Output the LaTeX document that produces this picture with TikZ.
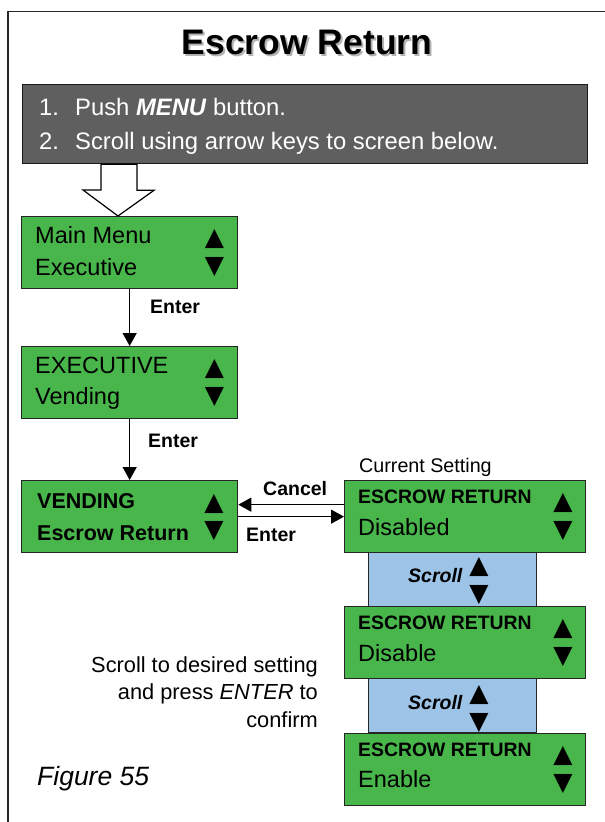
\documentclass[tikz,border=0pt]{standalone}
\usepackage{fontspec}
\setmainfont{Liberation Sans}
\newfontfamily\symfont{DejaVu Sans}
\usetikzlibrary{arrows.meta, positioning, calc}
\definecolor{lcdgreen}{RGB}{72,182,74}
\definecolor{stepgray}{RGB}{95,95,95}
\definecolor{scrollblue}{RGB}{157,195,230}
\tikzset{
    screen/.style={rectangle, draw=black!85, fill=lcdgreen, line width=1.3pt,
                   anchor=north west, minimum width=216pt, minimum height=72pt, inner sep=0pt},
    wscreen/.style={screen, minimum width=241pt},
    scrollbox/.style={rectangle, draw=black!85, fill=scrollblue, line width=1.3pt,
                      anchor=north west, minimum width=168pt, minimum height=54pt, inner sep=0pt},
    steps/.style={rectangle, draw=black!90, fill=stepgray, line width=1.3pt,
                  anchor=north west, minimum width=565pt, minimum height=79pt, inner sep=0pt},
    lcd/.style={anchor=base west, inner sep=0pt, font=\fontsize{23.5}{28}\selectfont},
    lcdbold/.style={lcd, font=\bfseries\fontsize{21.5}{26}\selectfont},
    lcdhead/.style={lcd, font=\bfseries\fontsize{19.4}{24}\selectfont},
    tri/.style={inner sep=0pt, font=\symfont\fontsize{25}{25}\selectfont},
    lbl/.style={anchor=base west, inner sep=0pt, font=\bfseries\fontsize{19.5}{24}\selectfont},
    note/.style={inner sep=0pt, font=\fontsize{21.8}{27.5}\selectfont},
    white/.style={anchor=base west, inner sep=0pt, text=white, font=\fontsize{23.8}{28}\selectfont},
    arrow/.style={line width=1.2pt, -{Triangle[length=13pt,width=14pt]}},
    hollow/.style={draw=black, fill=white, line width=1.2pt, line join=miter}
}
\newcommand{\shadowtext}[1]{\makebox[0pt][l]{\hspace{2pt}\raisebox{-2pt}{\textcolor{black!30}{#1}}}#1}

\begin{document}
\begin{tikzpicture}[x=1pt, y=-1pt]
    \useasboundingbox (0,0) rectangle (605,822);

    % frame
    \draw[line width=1.4pt, black!85] (605,11.5) -- (8,11.5) -- (8,822);

    % title
    \node[anchor=base, inner sep=0pt, font=\bfseries\fontsize{35.5}{40}\selectfont] (title)
        at (307,54) {\shadowtext{Escrow Return}};

    % instructions
    \node[steps] (steps) at (22,84) {};
    \node[white] (num1) at ($(steps.north west)+(17,31)$) {1.};
    \node[white] (txt1) at ($(steps.north west)+(53,31)$) {Push \textbf{\textit{MENU}} button.};
    \node[white] (num2) at ($(steps.north west)+(17,65)$) {2.};
    \node[white] (txt2) at ($(steps.north west)+(53,65)$) {Scroll using arrow keys to screen below.};

    % Main Menu
    \node[screen] (mainmenu) at (21,216) {};
    \node[lcd] at ($(mainmenu.north west)+(14,27)$) {Main Menu};
    \node[lcd] at ($(mainmenu.north west)+(14,59.5)$) {Executive};
    \node[tri] at ($(mainmenu.north west)+(193.5,23.5)$) {▲};
    \node[tri] at ($(mainmenu.north west)+(193.5,51.5)$) {▼};

    % hollow arrow into Main Menu
    \coordinate (tip) at (mainmenu.north -| 118,0);
    \draw[hollow] (tip) -- ++(-35,-26) -- ++(18,0) -- (101,0 |- steps.south)
        -- (137,0 |- steps.south) -- ++(0,26) -- ++(17,0) -- cycle;

    % EXECUTIVE
    \node[screen] (executive) at (21,346) {};
    \node[lcd] at ($(executive.north west)+(14,27)$) {EXECUTIVE};
    \node[lcd] at ($(executive.north west)+(14,58)$) {Vending};
    \node[tri] at ($(executive.north west)+(193.5,23.5)$) {▲};
    \node[tri] at ($(executive.north west)+(193.5,51.5)$) {▼};

    % VENDING
    \node[screen] (vending) at (21,480) {};
    \node[lcdbold] at ($(vending.north west)+(16,28)$) {VENDING};
    \node[lcdbold] at ($(vending.north west)+(16,60)$) {Escrow Return};
    \node[tri] at ($(vending.north west)+(193,24)$) {▲};
    \node[tri] at ($(vending.north west)+(193,50.5)$) {▼};

    % Escrow Return screens
    \node[wscreen] (setting) at (344,480) {};
    \node[lcdhead] at ($(setting.north west)+(14,23)$) {ESCROW RETURN};
    \node[lcd] at ($(setting.north west)+(14,55)$) {Disabled};
    \node[tri] at ($(setting.north west)+(219,23)$) {▲};
    \node[tri] at ($(setting.north west)+(219,51)$) {▼};

    \node[scrollbox] (scrolla) at (368,552) {};
    \node[wscreen] (disable) at (344,606) {};
    \node[lcdhead] at ($(disable.north west)+(14,23)$) {ESCROW RETURN};
    \node[lcd] at ($(disable.north west)+(14,55)$) {Disable};
    \node[tri] at ($(disable.north west)+(219,23)$) {▲};
    \node[tri] at ($(disable.north west)+(219,51)$) {▼};

    \node[scrollbox] (scrollb) at (368,678) {};
    \node[wscreen] (enable) at (344,733) {};
    \node[lcdhead] at ($(enable.north west)+(14,23)$) {ESCROW RETURN};
    \node[lcd] at ($(enable.north west)+(14,54)$) {Enable};
    \node[tri] at ($(enable.north west)+(219,23)$) {▲};
    \node[tri] at ($(enable.north west)+(219,51)$) {▼};

    % scroll labels
    \node[lbl, font=\bfseries\itshape\fontsize{19.5}{24}\selectfont] at ($(scrolla.north west)+(40,30)$) {Scroll};
    \node[tri] at ($(scrolla.north west)+(111,15)$) {▲};
    \node[tri] at ($(scrolla.north west)+(111,43)$) {▼};
    \node[lbl, font=\bfseries\itshape\fontsize{19.5}{24}\selectfont] at ($(scrollb.north west)+(40,31)$) {Scroll};
    \node[tri] at ($(scrollb.north west)+(111,16.5)$) {▲};
    \node[tri] at ($(scrollb.north west)+(111,44.5)$) {▼};

    % Arrows
    \draw[arrow] (mainmenu) -- (executive);
    \draw[arrow] (executive) -- (vending);
    \draw[arrow] ([yshift=12pt]setting.west) -- ([yshift=12pt]vending.east);
    \draw[arrow] (vending) -- (setting);

    % arrow labels
    \node[lbl] at (150,313) {Enter};
    \node[lbl] at (148,447) {Enter};
    \node[lbl] at (263,495) {Cancel};
    \node[lbl] at (246,541) {Enter};

    % notes
    \node[anchor=base west, inner sep=0pt, font=\fontsize{19.7}{24}\selectfont] (current)
        at (359,472) {Current Setting};
    \node[note, anchor=north east, align=right] (hint) at (318,656)
        {Scroll to desired setting\\and press \textit{ENTER} to\\confirm};
    \node[anchor=base west, inner sep=0pt, font=\itshape\fontsize{26.5}{30}\selectfont] (fig)
        at (37,785) {Figure 55};
\end{tikzpicture}
\end{document}
